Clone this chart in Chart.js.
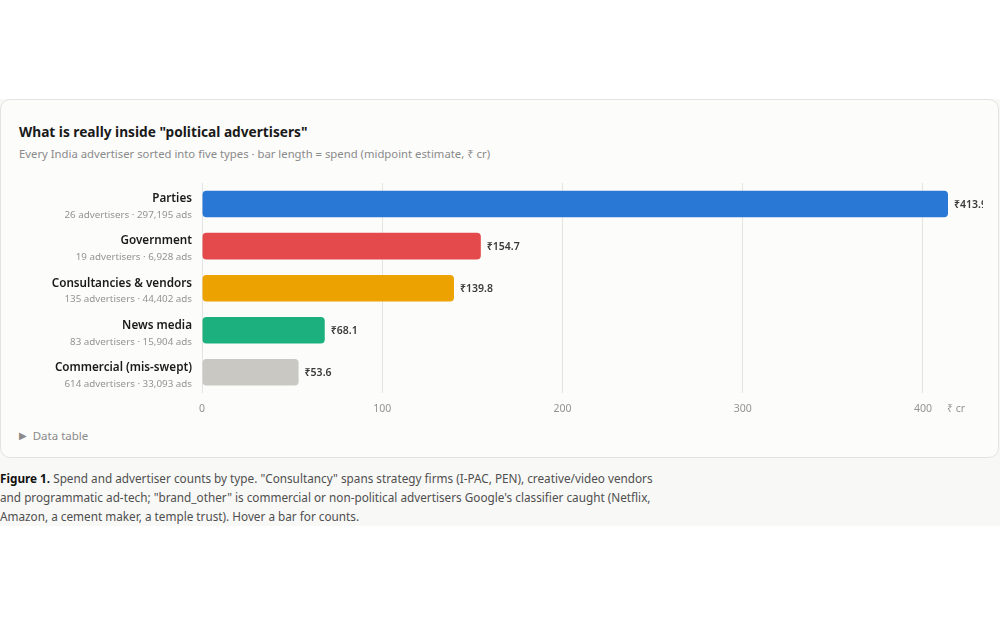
<!DOCTYPE html>
<html>
<head>
<meta charset="utf-8">
<script src="https://cdn.jsdelivr.net/npm/chart.js@4.4.1/dist/chart.umd.min.js"></script>
<style>
  html, body { margin: 0; padding: 0; background: #ffffff; width: 1000px; height: 625px; overflow: hidden; font-family: "Noto Sans", "DejaVu Sans", sans-serif; }
  #wrap { position: absolute; left: 0; top: 99px; width: 1000px; height: 427px; background: #f8f8f6; }
  #card { position: absolute; left: 0; top: 0; width: 997px; height: 357px; background: #fcfcfb; border: 1px solid #e3e3e0; border-radius: 10px; }
  #title { position: absolute; left: 18px; top: 22px; font-size: 13.7px; font-weight: 700; color: #1a1a1a; white-space: nowrap; }
  #sub { position: absolute; left: 18px; top: 46px; font-size: 11.3px; color: #8a8a8a; white-space: nowrap; }
  #cv { position: absolute; left: 18px; top: 77px; width: 964px; height: 247px; }
  #dt { position: absolute; left: 18px; top: 328px; font-size: 11.5px; color: #8a8a8a; white-space: nowrap; }
  #dt span { font-size: 10px; margin-right: 6px; position: relative; top: -1px; }
  #cap { position: absolute; left: 0; top: 370px; width: 760px; font-size: 11.75px; line-height: 19px; color: #4f4f4f; white-space: nowrap; }
  #cap b { color: #111; }
</style>
</head>
<body>
<div id="wrap">
  <div id="card">
    <div id="title">What is really inside "political advertisers"</div>
    <div id="sub">Every India advertiser sorted into five types · bar length = spend (midpoint estimate, ₹ cr)</div>
    <div id="cv"><canvas id="c" width="964" height="247"></canvas></div>
    <div id="dt"><span>▶</span>Data table</div>
  </div>
  <div id="cap"><b>Figure 1.</b> Spend and advertiser counts by type. "Consultancy" spans strategy firms (I-PAC, PEN), creative/video vendors<br>and programmatic ad-tech; "brand_other" is commercial or non-political advertisers Google's classifier caught (Netflix,<br>Amazon, a cement maker, a temple trust). Hover a bar for counts.</div>
</div>
<script>
const categories = ["Parties", "Government", "Consultancies & vendors", "News media", "Commercial (mis-swept)"];
const subLabels = ["26 advertisers · 297,195 ads", "19 advertisers · 6,928 ads", "135 advertisers · 44,402 ads", "83 advertisers · 15,904 ads", "614 advertisers · 33,093 ads"];
const spend = [413.9, 154.7, 139.8, 68.1, 53.6];
const barColors = ["#2a78d5", "#e44a4c", "#eca200", "#1cb07e", "#c9c8c2"];
const xTicks = [0, 100, 200, 300, 400];

const FONT = '"Noto Sans", "DejaVu Sans", sans-serif';

const labelPlugin = {
  id: 'labels',
  afterDatasetsDraw(chart) {
    const ctx = chart.ctx;
    const ys = chart.scales.y;
    const xs = chart.scales.x;
    const area = chart.chartArea;
    ctx.save();
    categories.forEach((cat, i) => {
      const y = ys.getPixelForValue(i);
      ctx.textAlign = 'right';
      ctx.textBaseline = 'middle';
      ctx.fillStyle = '#1a1a1a';
      ctx.font = '600 11.7px ' + FONT;
      ctx.fillText(cat, area.left - 10, y - 5);
      ctx.fillStyle = '#939393';
      ctx.font = '9.8px ' + FONT;
      ctx.fillText(subLabels[i], area.left - 10, y + 11.5);
      // value label
      ctx.textAlign = 'left';
      ctx.fillStyle = '#3a3a3a';
      ctx.font = '600 10.5px ' + FONT;
      ctx.fillText('₹' + spend[i].toFixed(1), xs.getPixelForValue(spend[i]) + 6, y + 1);
    });
    // unit label
    ctx.textAlign = 'left';
    ctx.textBaseline = 'middle';
    ctx.fillStyle = '#939393';
    ctx.font = '10.5px ' + FONT;
    const tickY = area.bottom + 9 + 7;
    ctx.fillText('₹ cr', xs.getPixelForValue(400) + 24, tickY);
    ctx.restore();
  }
};

new Chart(document.getElementById('c'), {
  type: 'bar',
  data: {
    labels: categories,
    datasets: [{
      data: spend,
      backgroundColor: barColors,
      borderRadius: 4,
      borderSkipped: false,
      barPercentage: 0.63,
      categoryPercentage: 1.0
    }]
  },
  options: {
    indexAxis: 'y',
    responsive: false,
    animation: false,
    devicePixelRatio: 1,
    layout: { padding: { left: 183, right: 24, top: 6, bottom: 0 } },
    plugins: { legend: { display: false }, tooltip: { enabled: false } },
    scales: {
      y: { display: false },
      x: {
        min: 0,
        max: 420,
        afterBuildTicks(scale) { scale.ticks = xTicks.map(v => ({ value: v })); },
        grid: { color: '#e4e4e2', drawTicks: false, lineWidth: 1 },
        border: { display: false },
        ticks: { padding: 9, color: '#939393', font: { size: 10.5, family: FONT }, callback: v => String(v) }
      }
    }
  },
  plugins: [labelPlugin]
});
</script>
</body>
</html>
